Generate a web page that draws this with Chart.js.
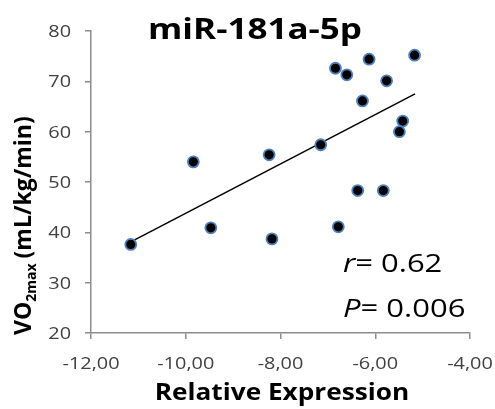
<!DOCTYPE html>
<html>
<head>
<meta charset="utf-8">
<script src="https://cdn.jsdelivr.net/npm/chart.js@4.4.0/dist/chart.umd.min.js"></script>
<style>
  html, body { margin: 0; padding: 0; background: #fff; }
  #wrap { width: 495px; height: 409px; }
</style>
</head>
<body>
<div id="wrap"><canvas id="chart" width="495" height="409"></canvas></div>
<script>
// ── Data ─────────────────────────────────────────────────────────────────────
const expr = [-11.16, -9.84, -9.47, -8.24, -8.18, -7.15, -6.84, -6.60, -6.78,
              -6.37, -5.83, -6.27, -6.13, -5.76, -5.42, -5.49, -5.17];
const vo2  = [37.6, 54.0, 40.9, 55.4, 38.7, 57.4, 72.6, 71.3, 41.1,
              48.3, 48.3, 66.1, 74.4, 70.1, 62.1, 60.0, 75.2];

const trendX = [-11.16, -5.16];
const trendY = [38.1, 67.5];

const xTicks = [-12, -10, -8, -6, -4];
const yTicks = [20, 30, 40, 50, 60, 70, 80];

const FONT = '"Open Sans", sans-serif';
const AXIS_GREY = '#8c8c8c';
const TICK_COLOR = '#404040';

// the reference is a horizontally stretched picture, so text is drawn a bit wide
function wideText(ctx, text, x, y, font, sx, align) {
  ctx.save();
  ctx.font = font;
  ctx.textAlign = align || 'left';
  ctx.translate(x, y);
  ctx.scale(sx, 1);
  ctx.fillText(text, 0, 0);
  const w = ctx.measureText(text).width * sx;
  ctx.restore();
  return w;
}

// ── Titles, tick labels and annotation drawn on top ──────────────────────────
const labels = {
  id: 'labels',
  afterDraw(chart) {
    const ctx = chart.ctx;
    const xs = chart.scales.x, ys = chart.scales.y;
    ctx.save();
    ctx.textBaseline = 'alphabetic';

    // tick labels
    ctx.fillStyle = TICK_COLOR;
    xTicks.forEach(v => {
      const t = v.toFixed(2).replace('.', ',');
      wideText(ctx, t, xs.getPixelForValue(v), 369, `17px ${FONT}`, 1.17, 'center');
    });
    yTicks.forEach(v => {
      wideText(ctx, String(v), 71, ys.getPixelForValue(v) + 6, `17px ${FONT}`, 1.17, 'right');
    });

    ctx.fillStyle = '#000';
    // chart title
    wideText(ctx, 'miR-181a-5p', 255, 39, `bold 28px ${FONT}`, 1.25, 'center');
    // x title
    wideText(ctx, 'Relative Expression', 282, 400, `bold 23px ${FONT}`, 1.14, 'center');

    // y title with subscript
    ctx.save();
    ctx.translate(31, 335);
    ctx.rotate(-Math.PI / 2);
    ctx.textAlign = 'left';
    ctx.font = `bold 23px ${FONT}`;
    ctx.fillText('VO', 0, 0);
    let w = ctx.measureText('VO').width;
    ctx.font = `bold 14px ${FONT}`;
    ctx.fillText('2max', w, 5);
    w += ctx.measureText('2max').width + 5;
    ctx.font = `bold 23px ${FONT}`;
    ctx.fillText('(mL/kg/min)', w, 0);
    ctx.restore();

    // r / P
    let rw = wideText(ctx, 'r', 343, 272, `italic 25px ${FONT}`, 1.24);
    wideText(ctx, '= 0.62', 343 + rw, 272, `25px ${FONT}`, 1.24);
    let pw = wideText(ctx, 'P', 343, 317, `italic 25px ${FONT}`, 1.24);
    wideText(ctx, '= 0.006', 343 + pw, 317, `25px ${FONT}`, 1.24);
    ctx.restore();
  }
};

new Chart(document.getElementById('chart'), {
  type: 'scatter',
  data: {
    datasets: [
      {
        data: expr.map((x, i) => ({ x, y: vo2[i] })),
        backgroundColor: '#000',
        borderColor: '#4f81bd',
        borderWidth: 1.8,
        pointRadius: 5.5,
        order: 1,
      },
      {
        type: 'line',
        data: trendX.map((x, i) => ({ x, y: trendY[i] })),
        borderColor: '#000',
        borderWidth: 1.5,
        pointRadius: 0,
        fill: false,
        order: 2,
      }
    ]
  },
  options: {
    responsive: false,
    animation: false,
    layout: { padding: { top: 31, right: 25, left: 0, bottom: 0 } },
    plugins: { legend: { display: false }, tooltip: { enabled: false } },
    scales: {
      x: {
        type: 'linear',
        min: -12, max: -4,
        afterBuildTicks: s => { s.ticks = xTicks.map(v => ({ value: v })); },
        afterFit: s => { s.height = 76; },
        border: { color: AXIS_GREY, width: 1.5 },
        grid: { drawOnChartArea: false, color: AXIS_GREY, tickLength: 6, lineWidth: 1.5 },
        ticks: { display: false },
      },
      y: {
        min: 20, max: 80,
        afterBuildTicks: s => { s.ticks = yTicks.map(v => ({ value: v })); },
        afterFit: s => { s.width = 91; },
        border: { color: AXIS_GREY, width: 1.5 },
        grid: { drawOnChartArea: false, color: AXIS_GREY, tickLength: 6, lineWidth: 1.5 },
        ticks: { display: false },
      }
    }
  },
  plugins: [labels]
});
</script>
</body>
</html>
